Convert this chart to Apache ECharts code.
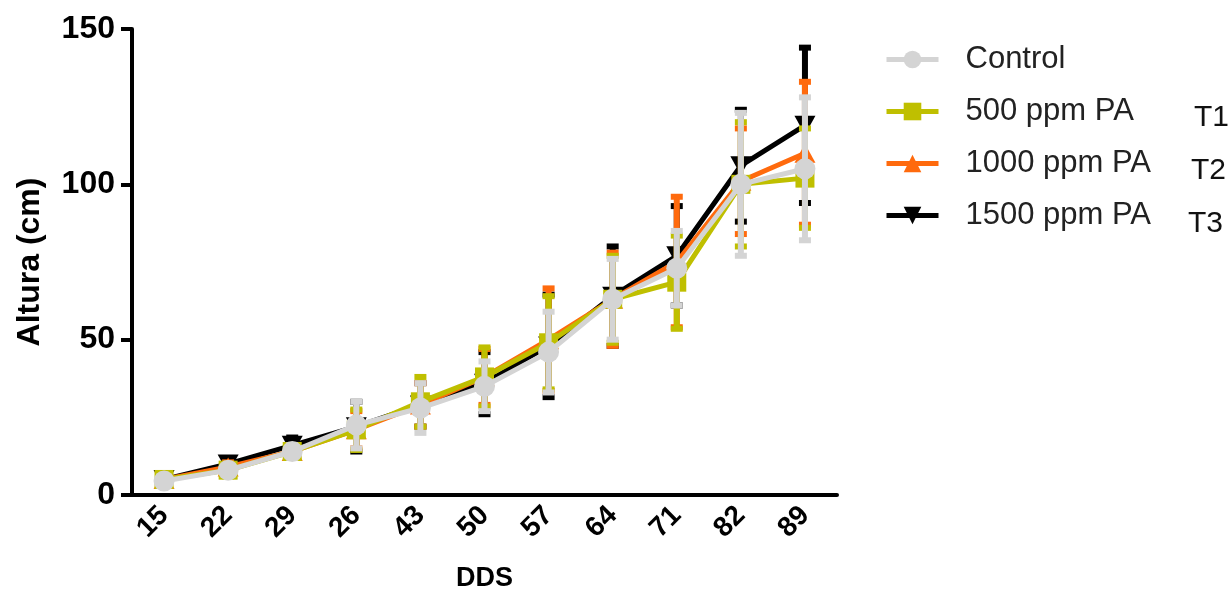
<!DOCTYPE html>
<html>
<head>
<meta charset="utf-8">
<script src="https://cdn.jsdelivr.net/npm/echarts@6/dist/echarts.min.js"></script>
<style>
  html, body { margin: 0; padding: 0; background: #fff; }
  #chart { width: 1231px; height: 595px; }
</style>
</head>
<body>
<div id="chart"></div>
<script>
const days = ['15', '22', '29', '26', '43', '50', '57', '64', '71', '82', '89'];

const controlMean = [4.5, 8, 14, 22.5, 28, 35, 46, 63, 73, 100, 105];
const controlErr  = [1.5, 1.5, 2, 7.5, 8, 8, 13, 13, 12, 23, 23];
const t1Mean = [5, 8, 14, 21, 30, 38, 49, 63, 68.5, 100, 102];
const t1Err  = [2, 2, 2, 6.5, 8, 9.5, 15, 14, 15, 20, 16];
const t2Mean = [5, 9, 14, 21, 29, 38, 50, 63, 75, 101, 110];
const t2Err  = [1, 1.5, 2, 6, 7, 9, 16.5, 15, 21, 17, 23];
const t3Mean = [5, 10, 16, 22, 29, 36, 48, 64, 77, 106, 119];
const t3Err  = [1, 1.5, 2.5, 8, 7, 10, 16.5, 16, 16, 18, 25];

const treatLabels = ['T1', 'T2', 'T3'];

const chart = echarts.init(document.getElementById('chart'));

// series drawn back to front: T3, T2, T1, Control
const groups = [
    { name: '1500 ppm PA', mean: t3Mean, err: t3Err, color: '#000000', symbol: 'path://M0,0 L10,0 L5,9 Z', size: [21, 19] },
    { name: '1000 ppm PA', mean: t2Mean, err: t2Err, color: '#ff6a0d', symbol: 'triangle', size: [21, 19] },
    { name: '500 ppm PA', mean: t1Mean, err: t1Err, color: '#bfbf00', symbol: 'rect', size: [19, 19] },
    { name: 'Control', mean: controlMean, err: controlErr, color: '#d4d4d4', symbol: 'circle', size: 21 }
];

function errorBar(color) {
    return function (params, api) {
        const x = api.value(0);
        const lo = api.coord([x, api.value(1)]);
        const hi = api.coord([x, api.value(2)]);
        const half = 6;
        return {
            type: 'group',
            children: [
                { type: 'line', shape: { x1: hi[0], y1: hi[1], x2: lo[0], y2: lo[1] }, style: { stroke: color, lineWidth: 6 } },
                { type: 'line', shape: { x1: hi[0] - half, y1: hi[1], x2: hi[0] + half, y2: hi[1] }, style: { stroke: color, lineWidth: 6 } },
                { type: 'line', shape: { x1: lo[0] - half, y1: lo[1], x2: lo[0] + half, y2: lo[1] }, style: { stroke: color, lineWidth: 6 } }
            ]
        };
    };
}

const series = [];
groups.forEach((g, k) => {
    series.push({
        type: 'custom',
        name: g.name + ' err',
        renderItem: errorBar(g.color),
        encode: { x: 0, y: [1, 2] },
        data: g.mean.map((m, i) => [i, m - g.err[i], m + g.err[i]]),
        z: 2 * k + 1,
        silent: true
    });
    series.push({
        type: 'line',
        name: g.name,
        data: g.mean,
        symbol: g.symbol,
        symbolSize: g.size,
        showAllSymbol: true,
        itemStyle: { color: g.color, opacity: 1 },
        lineStyle: { color: g.color, width: 5 },
        z: 2 * k + 2
    });
});

const option = {
    animation: false,
    grid: { left: 132, right: 394, top: 29, bottom: 100, outerBoundsMode: 'none', containLabel: false },
    legend: {
        orient: 'vertical',
        left: 879,
        top: 39,
        itemWidth: 52,
        itemHeight: 22,
        itemGap: 21,
        data: ['Control', '500 ppm PA', '1000 ppm PA', '1500 ppm PA'],
        lineStyle: { width: 5 },
        textStyle: {
            fontFamily: 'Liberation Sans, Arial',
            fontSize: 31,
            color: '#222',
            padding: [0, 0, 0, 22]
        }
    },
    xAxis: {
        type: 'category',
        data: days,
        boundaryGap: true,
        name: 'DDS',
        nameLocation: 'middle',
        nameGap: 70,
        nameTextStyle: { fontFamily: 'Liberation Sans, Arial', fontWeight: 'bold', fontSize: 27, color: '#000' },
        axisLine: { lineStyle: { color: '#000', width: 4 } },
        axisTick: { alignWithLabel: true, length: 12, lineStyle: { width: 4, color: '#000' } },
        axisLabel: {
            rotate: 45,
            margin: 16,
            fontFamily: 'Liberation Sans, Arial',
            fontWeight: 'bold',
            fontSize: 28,
            color: '#000'
        }
    },
    yAxis: {
        type: 'value',
        min: 0,
        max: 150,
        interval: 50,
        name: 'Altura (cm)',
        nameLocation: 'middle',
        nameGap: 86,
        nameTextStyle: { fontFamily: 'Liberation Sans, Arial', fontWeight: 'bold', fontSize: 32, color: '#000', padding: [0, 0, 0, 0] },
        splitLine: { show: false },
        axisLine: { show: true, lineStyle: { color: '#000', width: 4 } },
        axisTick: { show: true, length: 11, lineStyle: { width: 4, color: '#000' } },
        axisLabel: {
            margin: 17,
            fontFamily: 'Liberation Sans, Arial',
            fontWeight: 'bold',
            fontSize: 32,
            color: '#000'
        }
    },
    graphic: treatLabels.map((t, i) => ({
        type: 'text',
        left: 1194 - i * 3,
        top: 103 + i * 53,
        style: { text: t, fontFamily: 'Liberation Sans, Arial', fontSize: 30, fill: '#111' }
    })),
    series: series
};

chart.setOption(option);
</script>
</body>
</html>
